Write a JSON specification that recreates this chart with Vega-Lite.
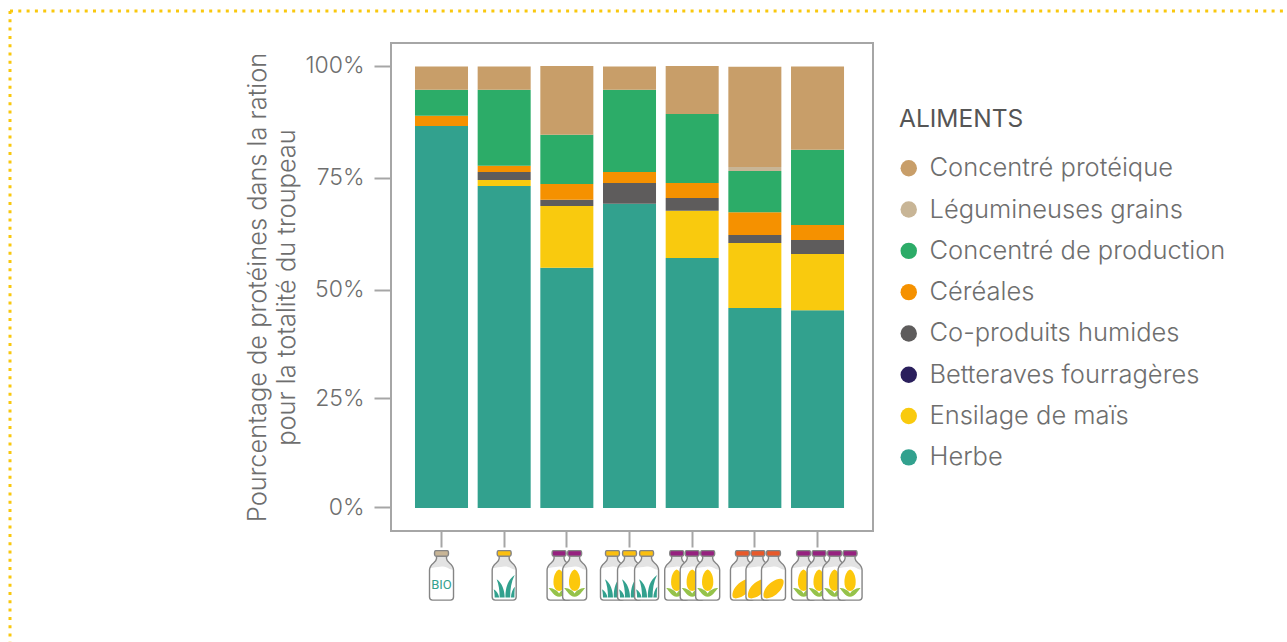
{
"$schema":"https://vega.github.io/schema/vega-lite/v6.json",
"width":482,"height":488,
"autosize":{"type":"none"},
"padding":{"left":391,"top":43,"right":414,"bottom":111},
"background":"white",
"config":{"view":{"stroke":"#a6a6a6","strokeWidth":2},"font":"Inter"},
"resolve":{"scale":{"fill":"independent","x":"independent"}},
"layer":[
{"data":{"values":[{}]},"mark":{"type":"rule","stroke":"#f9c80e","strokeWidth":3,"strokeDash":[3,5.3]},"encoding":{"x":{"value":-381},"x2":{"value":896},"y":{"value":-32}}},
{"data":{"values":[{}]},"mark":{"type":"rule","stroke":"#f9c80e","strokeWidth":3,"strokeDash":[3,5.3]},"encoding":{"x":{"value":-381},"y":{"value":-32},"y2":{"value":599}}},
{"data":{"values":[
{"troupeau":"Bio","aliment":"Herbe","rang":1,"valeur":86.5},
{"troupeau":"Bio","aliment":"Céréales","rang":5,"valeur":2.3},
{"troupeau":"Bio","aliment":"Concentré de production","rang":6,"valeur":5.9},
{"troupeau":"Bio","aliment":"Concentré protéique","rang":8,"valeur":5.3},
{"troupeau":"Herbe","aliment":"Herbe","rang":1,"valeur":72.9},
{"troupeau":"Herbe","aliment":"Ensilage de maïs","rang":2,"valeur":1.4},
{"troupeau":"Herbe","aliment":"Co-produits humides","rang":4,"valeur":1.8},
{"troupeau":"Herbe","aliment":"Céréales","rang":5,"valeur":1.4},
{"troupeau":"Herbe","aliment":"Concentré de production","rang":6,"valeur":17.2},
{"troupeau":"Herbe","aliment":"Concentré protéique","rang":8,"valeur":5.3},
{"troupeau":"2 Maïs","aliment":"Herbe","rang":1,"valeur":54.4},
{"troupeau":"2 Maïs","aliment":"Ensilage de maïs","rang":2,"valeur":14.0},
{"troupeau":"2 Maïs","aliment":"Co-produits humides","rang":4,"valeur":1.4},
{"troupeau":"2 Maïs","aliment":"Céréales","rang":5,"valeur":3.6},
{"troupeau":"2 Maïs","aliment":"Concentré de production","rang":6,"valeur":11.1},
{"troupeau":"2 Maïs","aliment":"Concentré protéique","rang":8,"valeur":15.6},
{"troupeau":"3 Herbe","aliment":"Herbe","rang":1,"valeur":68.9},
{"troupeau":"3 Herbe","aliment":"Co-produits humides","rang":4,"valeur":4.7},
{"troupeau":"3 Herbe","aliment":"Céréales","rang":5,"valeur":2.5},
{"troupeau":"3 Herbe","aliment":"Concentré de production","rang":6,"valeur":18.6},
{"troupeau":"3 Herbe","aliment":"Concentré protéique","rang":8,"valeur":5.3},
{"troupeau":"3 Maïs","aliment":"Herbe","rang":1,"valeur":56.6},
{"troupeau":"3 Maïs","aliment":"Ensilage de maïs","rang":2,"valeur":10.7},
{"troupeau":"3 Maïs","aliment":"Co-produits humides","rang":4,"valeur":2.9},
{"troupeau":"3 Maïs","aliment":"Céréales","rang":5,"valeur":3.4},
{"troupeau":"3 Maïs","aliment":"Concentré de production","rang":6,"valeur":15.6},
{"troupeau":"3 Maïs","aliment":"Concentré protéique","rang":8,"valeur":10.9},
{"troupeau":"3 Betteraves","aliment":"Herbe","rang":1,"valeur":45.3},
{"troupeau":"3 Betteraves","aliment":"Ensilage de maïs","rang":2,"valeur":14.7},
{"troupeau":"3 Betteraves","aliment":"Co-produits humides","rang":4,"valeur":1.8},
{"troupeau":"3 Betteraves","aliment":"Céréales","rang":5,"valeur":5.2},
{"troupeau":"3 Betteraves","aliment":"Concentré de production","rang":6,"valeur":9.3},
{"troupeau":"3 Betteraves","aliment":"Légumineuses grains","rang":7,"valeur":0.9},
{"troupeau":"3 Betteraves","aliment":"Concentré protéique","rang":8,"valeur":22.7},
{"troupeau":"4 Maïs","aliment":"Herbe","rang":1,"valeur":44.8},
{"troupeau":"4 Maïs","aliment":"Ensilage de maïs","rang":2,"valeur":12.7},
{"troupeau":"4 Maïs","aliment":"Co-produits humides","rang":4,"valeur":3.2},
{"troupeau":"4 Maïs","aliment":"Céréales","rang":5,"valeur":3.4},
{"troupeau":"4 Maïs","aliment":"Concentré de production","rang":6,"valeur":17.0},
{"troupeau":"4 Maïs","aliment":"Concentré protéique","rang":8,"valeur":18.9}
]},
"mark":{"type":"bar"},
"encoding":{
"x":{"field":"troupeau","type":"nominal","sort":null,
"scale":{"domain":["Bio","Herbe","2 Maïs","3 Herbe","3 Maïs","3 Betteraves","4 Maïs"],"paddingInner":0.154,"paddingOuter":0.4225,"align":0.453},
"axis":{"title":null,"labels":false,"domain":false,"tickColor":"#a6a6a6","tickSize":16,"tickWidth":2,"grid":false}},
"y":{"field":"valeur","type":"quantitative","stack":"zero",
"scale":{"domain":[-5.2,105.3],"nice":false,"zero":false},
"axis":{"values":[0.16,24.85,49.4,74.8,100.2],"labelExpr":"round(datum.value / 25) * 25 + '%'","grid":false,"domain":false,"tickColor":"#a6a6a6","tickSize":17,"tickWidth":2,"labelFontSize":23,"labelFontWeight":300,"labelColor":"#6e6e6e","labelPadding":10,"title":["Pourcentage de protéines dans la ration","pour la totalité du troupeau"],"titleFontSize":25.4,"titleFontWeight":300,"titleColor":"#6e6e6e","titlePadding":5,"titleLineHeight":29}},
"order":{"field":"rang","type":"quantitative"},
"fill":{"field":"aliment","type":"nominal",
"scale":{"domain":["Concentré protéique","Légumineuses grains","Concentré de production","Céréales","Co-produits humides","Betteraves fourragères","Ensilage de maïs","Herbe"],"range":["#c89e69","#c8b596","#2cac68","#f59100","#5e5c5c","#2a1f5c","#f9ca0e","#32a18e"]},
"legend":{"orient":"none","legendX":508,"legendY":65,"title":"ALIMENTS","titleFontSize":24.5,"titleFontWeight":400,"titleColor":"#555555","titlePadding":23,"labelFontSize":25.5,"labelFontWeight":300,"labelColor":"#6e6e6e","labelLimit":400,"symbolType":"circle","symbolSize":270,"symbolStrokeWidth":0,"rowPadding":14.3,"labelOffset":8,"symbolOffset":-3}}
}},
{"data":{"values":[
{"abscisse":1,"pieces":["corps","lait","contour","bouchon beige"]},
{"abscisse":2,"pieces":["corps","lait","herbe","contour","bouchon jaune"]},
{"abscisse":2.876,"pieces":["corps","lait","épi","feuilles","contour","bouchon violet"]},
{"abscisse":3.124,"pieces":["corps","lait","épi","feuilles","contour","bouchon violet"]},
{"abscisse":3.728,"pieces":["corps","lait","herbe","contour","bouchon jaune"]},
{"abscisse":4,"pieces":["corps","lait","herbe","contour","bouchon jaune"]},
{"abscisse":4.272,"pieces":["corps","lait","herbe","contour","bouchon jaune"]},
{"abscisse":4.753,"pieces":["corps","lait","épi","feuilles","contour","bouchon violet"]},
{"abscisse":5,"pieces":["corps","lait","épi","feuilles","contour","bouchon violet"]},
{"abscisse":5.247,"pieces":["corps","lait","épi","feuilles","contour","bouchon violet"]},
{"abscisse":5.802,"pieces":["corps","lait","betterave","contour","bouchon orange"]},
{"abscisse":6.049,"pieces":["corps","lait","betterave","contour","bouchon orange"]},
{"abscisse":6.297,"pieces":["corps","lait","betterave","contour","bouchon orange"]},
{"abscisse":6.777,"pieces":["corps","lait","épi","feuilles","contour","bouchon violet"]},
{"abscisse":7.025,"pieces":["corps","lait","épi","feuilles","contour","bouchon violet"]},
{"abscisse":7.272,"pieces":["corps","lait","épi","feuilles","contour","bouchon violet"]},
{"abscisse":7.519,"pieces":["corps","lait","épi","feuilles","contour","bouchon violet"]}
]},
"transform":[{"flatten":["pieces"],"as":["piece"]}],
"mark":{"type":"point","filled":true,"opacity":1,"size":2500,"strokeWidth":1.4},
"encoding":{
"x":{"field":"abscisse","type":"quantitative","axis":null,"scale":{"domain":[0.194,7.885],"nice":false,"zero":false}},
"y":{"datum":-15.3},
"shape":{"field":"piece","type":"nominal","legend":null,"scale":{
"domain":["corps","contour","lait","herbe","épi","feuilles","betterave","bouchon beige","bouchon jaune","bouchon violet","bouchon orange"],
"range":[
"M-.2,-.78 L-.2,-.68 C-.2,-.5 -.48,-.5 -.48,-.22 L-.48,.86 Q-.48,.98 -.36,.98 L.36,.98 Q.48,.98 .48,.86 L.48,-.22 C.48,-.5 .2,-.5 .2,-.68 L.2,-.78 Z",
"M-.2,-.78 L-.2,-.68 C-.2,-.5 -.48,-.5 -.48,-.22 L-.48,.86 Q-.48,.98 -.36,.98 L.36,.98 Q.48,.98 .48,.86 L.48,-.22 C.48,-.5 .2,-.5 .2,-.68 L.2,-.78 Z",
"M-.2,-.78 L.2,-.78 L.2,-.68 C.2,-.5 .48,-.5 .48,-.24 C.3,-.22 .2,-.4 0,-.36 C-.2,-.32 -.3,-.34 -.48,-.28 C-.48,-.5 -.2,-.5 -.2,-.68 Z",
"M-.38,.88 C-.38,.72 -.4,.62 -.42,.55 C-.3,.62 -.22,.75 -.2,.88 Z M-.18,.88 C-.18,.6 -.22,.35 -.3,.15 C-.08,.3 .02,.6 .02,.88 Z M.05,.88 C.05,.5 .12,.2 .42,-.02 C.28,.25 .24,.55 .24,.88 Z M.27,.88 C.28,.7 .33,.55 .43,.45 C.41,.6 .41,.75 .41,.88 Z",
"M0,-.24 C.16,-.18 .25,.1 .22,.35 C.2,.5 .12,.62 0,.62 C-.12,.62 -.2,.5 -.22,.35 C-.25,.1 -.16,-.18 0,-.24 Z",
"M0,.85 C-.2,.85 -.3,.62 -.42,.5 C-.3,.5 -.1,.55 0,.72 C.1,.55 .3,.5 .42,.5 C.3,.62 .2,.85 0,.85 Z",
"M-.38,.88 C-.46,.7 -.3,.4 -.05,.25 C.15,.1 .36,.08 .4,.2 C.44,.38 .28,.65 .05,.8 C-.1,.9 -.3,.95 -.38,.88 Z",
"M-.23,-1 L.23,-1 Q.28,-1 .28,-.89 Q.28,-.78 .23,-.78 L-.23,-.78 Q-.28,-.78 -.28,-.89 Q-.28,-1 -.23,-1 Z",
"M-.23,-1 L.23,-1 Q.28,-1 .28,-.89 Q.28,-.78 .23,-.78 L-.23,-.78 Q-.28,-.78 -.28,-.89 Q-.28,-1 -.23,-1 Z",
"M-.23,-1 L.23,-1 Q.28,-1 .28,-.89 Q.28,-.78 .23,-.78 L-.23,-.78 Q-.28,-.78 -.28,-.89 Q-.28,-1 -.23,-1 Z",
"M-.23,-1 L.23,-1 Q.28,-1 .28,-.89 Q.28,-.78 .23,-.78 L-.23,-.78 Q-.28,-.78 -.28,-.89 Q-.28,-1 -.23,-1 Z"
]}},
"fill":{"field":"piece","type":"nominal","legend":null,"scale":{
"domain":["corps","contour","lait","herbe","épi","feuilles","betterave","bouchon beige","bouchon jaune","bouchon violet","bouchon orange"],
"range":["#ffffff","transparent","#e3e3e3","#32a18e","#fcc80c","#95c24a","#fdc20c","#c8b596","#fbbf0f","#96217f","#e8592a"]}},
"stroke":{"field":"piece","type":"nominal","legend":null,"scale":{
"domain":["corps","contour","lait","herbe","épi","feuilles","betterave","bouchon beige","bouchon jaune","bouchon violet","bouchon orange"],
"range":["transparent","#858585","transparent","transparent","transparent","transparent","transparent","#858585","#858585","#858585","#858585"]}}
}},
{"data":{"values":[{"abscisse":1,"etiquette":"BIO"}]},
"mark":{"type":"text","fontSize":13,"font":"Roboto","fontWeight":400,"color":"#32a18e"},
"encoding":{"x":{"field":"abscisse","type":"quantitative","axis":null,"scale":{"domain":[0.194,7.885],"nice":false,"zero":false}},"y":{"datum":-17.4},"text":{"field":"etiquette"}}}
]
}
